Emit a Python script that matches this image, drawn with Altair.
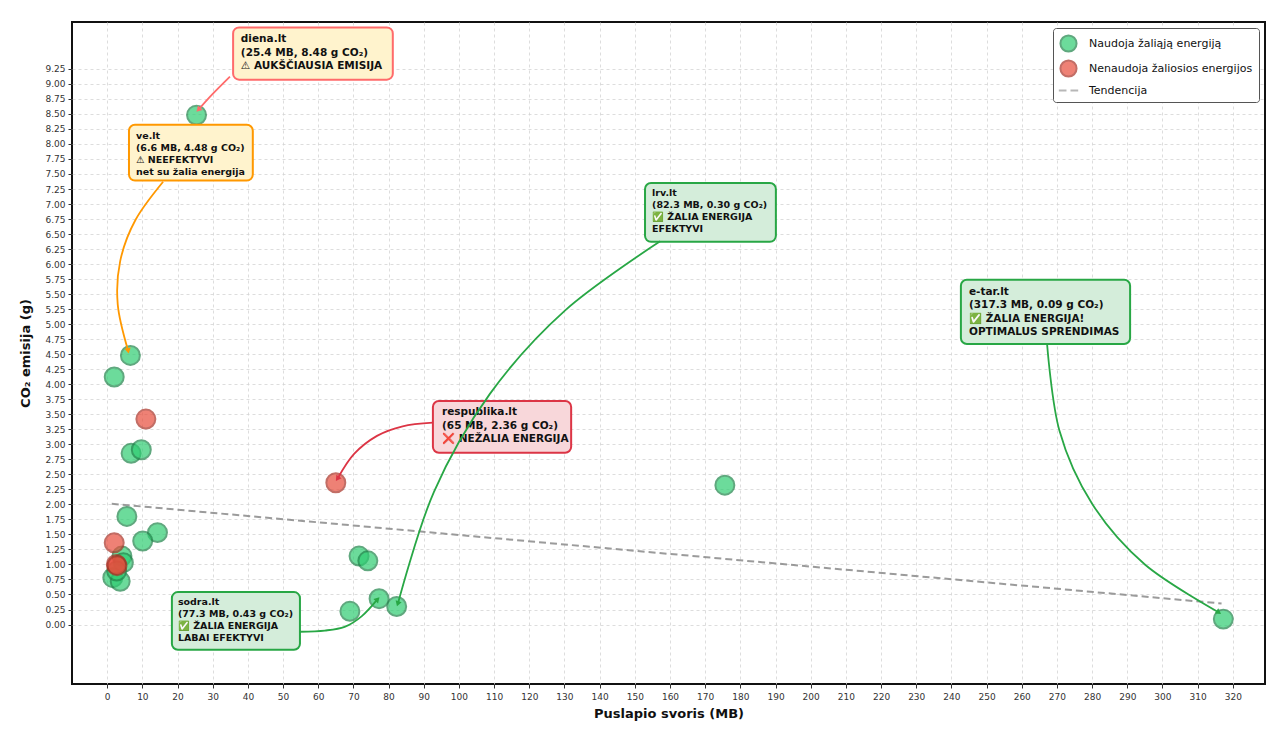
import altair as alt
import pandas as pd

# ---------------- data ----------------
green_x = [25.4, 6.6, 2.0, 6.8, 9.7, 175.6, 5.6, 14.3, 10.1, 4.2, 4.6, 1.6, 3.7, 2.7,
           71.6, 74.1, 69.0, 77.3, 82.3, 317.3]
green_y = [8.48, 4.48, 4.12, 2.85, 2.91, 2.32, 1.80, 1.53, 1.39, 1.14, 1.03, 0.78, 0.72, 0.89,
           1.14, 1.06, 0.22, 0.43, 0.30, 0.09]
red_x = [11.0, 65.0, 2.0, 2.6, 2.8]
red_y = [3.42, 2.36, 1.36, 1.00, 0.98]

trend_x = [1.3, 316.8]
trend_y = [2.01, 0.35]

x_ticks = list(range(0, 330, 10))
y_ticks = [i * 0.25 for i in range(38)]

G = "Naudoja žaliąją energiją"
R = "Nenaudoja žaliosios energijos"
T = "Tendencija"

# annotation texts
ann_texts = {
    "diena": ["diena.lt", "(25.4 MB, 8.48 g CO₂)", "⚠ AUKŠČIAUSIA EMISIJA"],
    "ve": ["ve.lt", "(6.6 MB, 4.48 g CO₂)", "⚠ NEEFEKTYVI", "net su žalia energija"],
    "lrv": ["lrv.lt", "(82.3 MB, 0.30 g CO₂)", "✅ ŽALIA ENERGIJA", "EFEKTYVI"],
    "etar": ["e-tar.lt", "(317.3 MB, 0.09 g CO₂)", "✅ ŽALIA ENERGIJA!", "OPTIMALUS SPRENDIMAS"],
    "resp": ["respublika.lt", "(65 MB, 2.36 g CO₂)", "❌ NEŽALIA ENERGIJA"],
    "sodra": ["sodra.lt", "(77.3 MB, 0.43 g CO₂)", "✅ ŽALIA ENERGIJA", "LABAI EFEKTYVI"],
}

# annotation placement (data units) and styling
ann_layout = {
    "diena": dict(box=(35.8, 81.2, 9.07, 9.94), txt=(38.0, 9.83), big=True,
                  px=[34.9, 29.8, 26.1], py=[9.12, 8.82, 8.58], ang=223,
                  edge="#ff6b6b", face="#fff3cd"),
    "ve": dict(box=(6.2, 41.4, 7.39, 8.32), txt=(8.2, 8.22), big=False,
               px=[15.9, 8.0, 3.7, 3.0, 5.9], py=[7.37, 6.73, 6.05, 5.33, 4.57], ang=168,
               edge="#ff9800", face="#fff3cd"),
    "lrv": dict(box=(152.9, 190.1, 6.37, 7.35), txt=(154.9, 7.27), big=False,
                px=[157.2, 130.2, 108.8, 92.9, 82.7], py=[6.38, 5.23, 3.84, 2.21, 0.36], ang=198,
                edge="#28a745", face="#d4edda"),
    "etar": dict(box=(242.7, 290.8, 4.67, 5.74), txt=(245.0, 5.62), big=True,
                 px=[267.2, 270.7, 280.0, 295.0, 315.8], py=[4.67, 3.23, 2.01, 1.00, 0.21], ang=123,
                 edge="#28a745", face="#d4edda"),
    "resp": dict(box=(92.6, 131.9, 2.86, 3.72), txt=(95.2, 3.62), big=True,
                 px=[92.6, 84.0, 76.7, 70.2, 65.6], py=[3.36, 3.30, 3.14, 2.84, 2.44], ang=214,
                 edge="#dc3545", face="#f8d7da"),
    "sodra": dict(box=(18.4, 54.8, -0.42, 0.54), txt=(20.1, 0.46), big=False,
                  px=[54.8, 61.9, 67.5, 72.4, 76.7], py=[-0.12, -0.10, -0.04, 0.14, 0.41], ang=43,
                  edge="#28a745", face="#d4edda"),
}

# ---------------- chart ----------------
xs = alt.Scale(domain=[-10, 329.15], nice=False, zero=False)
ys = alt.Scale(domain=[-0.99, 10.03], nice=False, zero=False)
x_axis = alt.Axis(values=x_ticks, title="Puslapio svoris (MB)", format="d",
                  labelPadding=4, titlePadding=6)
y_axis = alt.Axis(values=y_ticks, title="CO₂ emisija (g)", format=".2f",
                  labelPadding=3, titlePadding=12)


def X(f):
    return alt.X(f, type="quantitative", scale=xs, axis=x_axis)


def Y(f):
    return alt.Y(f, type="quantitative", scale=ys, axis=y_axis)


points = pd.DataFrame({
    "x": green_x + red_x,
    "y": green_y + red_y,
    "grupe": [G] * len(green_x) + [R] * len(red_x),
})

dom = [G, R, T]
leg = alt.Legend(title=None, orient="top-right", offset=6, labelLimit=0,
                 symbolSize=260, rowPadding=0)

trend = alt.Chart(pd.DataFrame({"x": trend_x, "y": trend_y})).mark_line(
    color="#8a8a8a", strokeDash=[7, 4], strokeWidth=2, opacity=0.85
).encode(x=X("x"), y=Y("y"))

pts = alt.Chart(points).mark_point(filled=True, opacity=0.7, strokeWidth=2).encode(
    x=X("x"), y=Y("y"),
    size=alt.value(360),
    color=alt.Color("grupe:N", scale=alt.Scale(domain=dom, range=["#2ecc71", "#e74c3c", "#999999"]), legend=leg),
    stroke=alt.Stroke("grupe:N", scale=alt.Scale(domain=dom, range=["#1e8449", "#a93226", "#999999"]), legend=leg),
    shape=alt.Shape("grupe:N", scale=alt.Scale(domain=dom, range=["circle", "circle", "M-1.2,0L-0.25,0M0.25,0L1.2,0"]), legend=leg),
)

boxes, texts, lines, heads = [], [], [], []
for key, lay in ann_layout.items():
    x1, x2, y1, y2 = lay["box"]
    boxes.append(alt.Chart(pd.DataFrame({"x": [x1], "x2": [x2], "y": [y1], "y2": [y2]})).mark_rect(
        cornerRadius=6, fill=lay["face"], stroke=lay["edge"], strokeWidth=2
    ).encode(x=X("x"), x2="x2:Q", y=Y("y"), y2="y2:Q"))
    tx, ty = lay["txt"]
    fs = 10.5 if lay["big"] else 9.5
    lh = 13.5 if lay["big"] else 12
    texts.append(alt.Chart(pd.DataFrame({"x": [tx], "y": [ty], "t": ["\n".join(ann_texts[key])]})).mark_text(
        align="left", baseline="top", font="DejaVu Sans", fontWeight="bold", fontSize=fs,
        lineHeight=lh, lineBreak="\n", color="#111111"
    ).encode(x=X("x"), y=Y("y"), text="t:N"))
    lines.append(alt.Chart(pd.DataFrame({"x": lay["px"], "y": lay["py"], "k": list(range(len(lay["px"])))})).mark_line(
        color=lay["edge"], strokeWidth=1.8, interpolate="cardinal"
    ).encode(x=X("x"), y=Y("y"), order="k:Q"))
    heads.append(alt.Chart(pd.DataFrame({"x": [lay["px"][-1]], "y": [lay["py"][-1]]})).mark_point(
        shape="triangle", filled=True, size=40, angle=lay["ang"], color=lay["edge"], opacity=1
    ).encode(x=X("x"), y=Y("y")))

chart = alt.layer(trend, pts, *boxes, *texts, *lines, *heads).properties(
    width=1193, height=662,
    autosize=alt.AutoSizeParams(type="none"),
    padding={"left": 64, "top": 14, "right": 1, "bottom": 39},
).configure_view(
    stroke="#111111", strokeWidth=2
).configure_axis(
    labelFont="DejaVu Sans", labelFontSize=9, labelColor="#333333",
    tickColor="#333333", tickSize=4, domain=False,
    grid=True, gridColor="#d5d5d5", gridDash=[3, 3], gridOpacity=0.8,
    titleFont="DejaVu Sans", titleFontSize=13, titleFontWeight="bold", titleColor="#111111",
).configure_legend(
    labelFont="DejaVu Sans", labelFontSize=11, labelColor="#111111",
    symbolSize=260, symbolStrokeWidth=2, symbolOpacity=0.7,
    strokeColor="#555555", fillColor="#ffffff", cornerRadius=3, padding=6,
    rowPadding=0, labelOffset=11,
)

chart.save("out.html", embed_options={"renderer": "svg", "actions": False})
